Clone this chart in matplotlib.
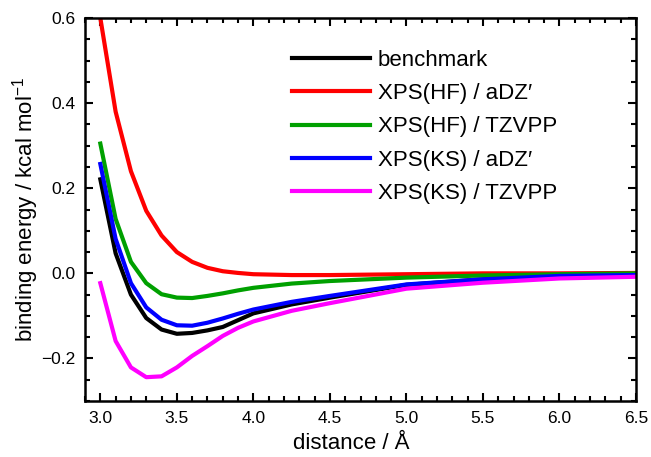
import matplotlib
matplotlib.use("Agg")
import matplotlib.pyplot as plt
from matplotlib.ticker import MultipleLocator

plt.rcParams['font.family'] = ['Liberation Sans', 'DejaVu Sans']
plt.rcParams['mathtext.fontset'] = 'custom'
plt.rcParams['mathtext.rm'] = 'Liberation Sans'
plt.rcParams['mathtext.it'] = 'Liberation Sans:italic'

distance = [3.0, 3.1, 3.2, 3.3, 3.4, 3.5, 3.6, 3.7, 3.8, 3.9, 4.0, 4.25, 4.5, 5.0, 5.5, 6.0, 6.5]

benchmark = [0.221, 0.047, -0.050, -0.105, -0.132, -0.142, -0.140, -0.134, -0.126, -0.110, -0.094,
             -0.073, -0.057, -0.027, -0.014, -0.007, -0.004]
hf_adz = [0.60, 0.38, 0.24, 0.147, 0.089, 0.050, 0.027, 0.013, 0.005, 0.001, -0.002,
          -0.004, -0.004, -0.002, 0.000, 0.000, 0.001]
hf_tzvpp = [0.305, 0.128, 0.027, -0.023, -0.049, -0.057, -0.058, -0.053, -0.047, -0.040, -0.034,
            -0.024, -0.018, -0.010, -0.005, -0.002, 0.000]
ks_adz = [0.257, 0.081, -0.023, -0.080, -0.109, -0.122, -0.123, -0.116, -0.106, -0.095, -0.085,
          -0.067, -0.053, -0.026, -0.014, -0.006, -0.004]
ks_tzvpp = [-0.023, -0.159, -0.221, -0.244, -0.242, -0.221, -0.194, -0.171, -0.147, -0.128, -0.113,
            -0.088, -0.070, -0.036, -0.022, -0.012, -0.008]

series = [
    ("benchmark", benchmark, "black"),
    ("XPS(HF) / aDZ\u2032", hf_adz, "#ff0000"),
    ("XPS(HF) / TZVPP", hf_tzvpp, "#00a000"),
    ("XPS(KS) / aDZ\u2032", ks_adz, "#0000ff"),
    ("XPS(KS) / TZVPP", ks_tzvpp, "#ff00ff"),
]

fig = plt.figure(figsize=(6.51, 4.57), dpi=100)
ax = fig.add_axes([0.1306, 0.1225, 0.8464, 0.838])

for label, vals, color in series:
    ax.plot(distance, vals, color=color, lw=3, label=label)

ax.set_xlim(2.9, 6.5)
ax.set_ylim(-0.3, 0.6)
ax.xaxis.set_major_locator(MultipleLocator(0.5))
ax.xaxis.set_minor_locator(MultipleLocator(0.1))
ax.yaxis.set_major_locator(MultipleLocator(0.2))
ax.yaxis.set_minor_locator(MultipleLocator(0.05))
ax.xaxis.set_major_formatter(matplotlib.ticker.FormatStrFormatter('%.1f'))
ax.yaxis.set_major_formatter(matplotlib.ticker.FuncFormatter(lambda v, p: ('%.1f' % v).replace('-', '\u2212')))

ax.tick_params(which='both', direction='in', top=True, right=True, width=1.5, labelsize=12.5)
ax.tick_params(which='major', length=6, pad=7)
ax.tick_params(which='minor', length=3.5)
for s in ax.spines.values():
    s.set_linewidth(1.8)

ax.set_xlabel("distance / \u00c5", fontsize=16, labelpad=5)
ax.xaxis.label.set_x(0.483)
ax.set_ylabel("binding energy / kcal mol$^{\u2212\\mathrm{1}}$", fontsize=16, labelpad=0)

leg = ax.legend(loc='upper left', bbox_to_anchor=(0.376, 0.917), frameon=False, fontsize=16,
                borderpad=0, borderaxespad=0,
                handlelength=3.5, handletextpad=0.36, labelspacing=0.55)

fig.savefig("out.png", dpi=100)
